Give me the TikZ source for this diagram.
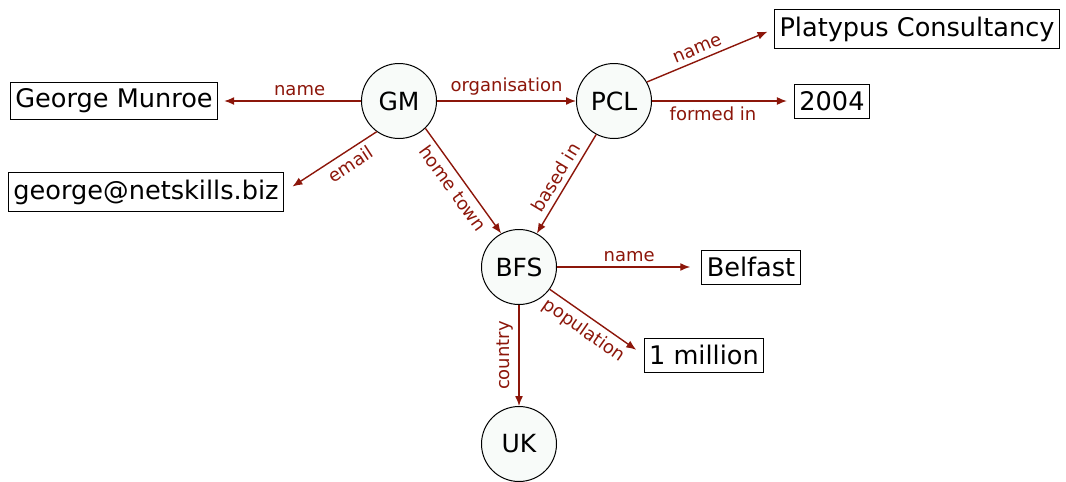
\documentclass[tikz,border=0pt]{standalone}
\usepackage{fontspec}
\setmainfont{DejaVu Sans}
\usepackage{xcolor}
\usepackage{tikz}
\usetikzlibrary{arrows.meta}
\definecolor{linkred}{RGB}{140,22,10}
\definecolor{nodefill}{RGB}{248,251,249}

\begin{document}
\begin{tikzpicture}[x=0.5pt,y=-0.5pt,
		resource/.style={circle,draw=black,line width=0.5pt,fill=nodefill,
			minimum size=37.5pt,inner sep=0pt,font=\fontsize{12.5}{14}\selectfont},
		literal/.style={rectangle,draw=black,line width=0.5pt,inner xsep=2.5pt,
			minimum height=17pt,font=\fontsize{12.8}{14}\selectfont},
		prop/.style={-{Latex[length=5pt,width=4pt]},linkred,line width=0.7pt},
		plabel/.style={text=linkred,inner sep=2.5pt,font=\fontsize{9}{10}\selectfont}]
	\useasboundingbox (0,0) rectangle (1066,482);
	
	% Resources
	\node[resource] (gm)  at (399,101) {GM};
	\node[resource] (pcl) at (614,101) {PCL};
	\node[resource] (bfs) at (519,267) {BFS};
	\node[resource] (uk)  at (519,444) {UK};
	
	% Literal values
	\node[literal] (gmname)  at (114,101) {George Munroe};
	\node[literal] (gmmail)  at (146,192) {george@netskills.biz};
	\node[literal] (pclname) at (917,29)  {Platypus Consultancy};
	\node[literal] (pclyear) at (832,101) {2004};
	\node[literal] (bfsname) at (751,267) {Belfast};
	\node[literal] (bfspop)  at (704,355) {1 million};
	
	% Properties of GM
	\draw[prop,shorten >=3pt] (gm.west) -- (gmname.east)
		node[plabel,pos=0.43,above] {name};
	\draw[prop,shorten >=5pt] (gm.234) -- (gmmail.east)
		node[plabel,pos=0.36,sloped,below] {email};
	\draw[prop] (gm.east) -- (pcl.west)
		node[plabel,midway,above] {organisation};
	\draw[prop] (gm.314) -- (bfs.118)
		node[plabel,midway,sloped,below] {home town};
	
	% Properties of PCL
	\draw[prop,shorten >=3.5pt] (pcl.30) -- (pclname.west)
		node[plabel,pos=0.43,sloped,above] {name};
	\draw[prop,shorten >=3.5pt] (pcl.east) -- (pclyear.west)
		node[plabel,pos=0.43,below] {formed in};
	\draw[prop] (pcl.242) -- (bfs.62)
		node[plabel,midway,sloped,above] {based in};
	
	% Properties of BFS
	\draw[prop,shorten >=5.5pt] (bfs.east) -- (bfsname.west)
		node[plabel,midway,above] {name};
	\draw[prop,shorten >=4.5pt] (bfs.324) -- (bfspop.west)
		node[plabel,pos=0.45,sloped,below] {population};
	\draw[prop] (bfs.south) -- (uk.north)
		node[plabel,midway,rotate=90,anchor=south] {country};
\end{tikzpicture}
\end{document}
